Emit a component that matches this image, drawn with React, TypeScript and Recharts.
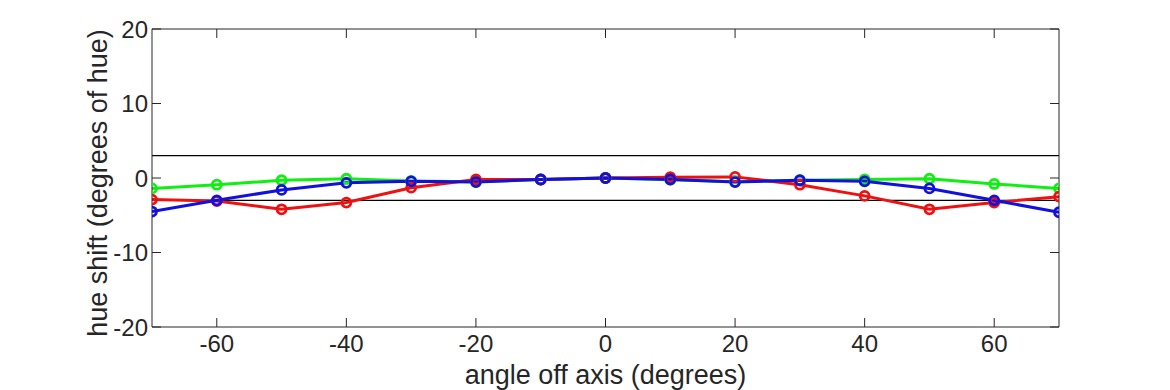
import React from "react";
import { LineChart, Line, XAxis, YAxis, ReferenceLine } from "recharts";

const angles = [-70, -60, -50, -40, -30, -20, -10, 0, 10, 20, 30, 40, 50, 60, 70];
const greenShift = [-1.4, -0.9, -0.3, -0.1, -0.4, -0.5, -0.2, 0, -0.2, -0.5, -0.3, -0.2, -0.1, -0.8, -1.4];
const redShift = [-2.9, -3.1, -4.2, -3.3, -1.3, -0.2, -0.2, 0, 0.1, 0.15, -0.9, -2.4, -4.2, -3.3, -2.5];
const blueShift = [-4.5, -3.0, -1.6, -0.65, -0.45, -0.55, -0.2, 0, -0.2, -0.55, -0.3, -0.45, -1.4, -3.0, -4.6];
const xTicks = [-60, -40, -20, 0, 20, 40, 60];
const yTicks = [-20, -10, 0, 10, 20];

const data = angles.map((angle, i) => ({
  angle,
  green: greenShift[i],
  red: redShift[i],
  blue: blueShift[i],
}));

const FONT = "'Liberation Sans', Arial, Helvetica, sans-serif";
const AXIS = "#262626";
const TICK_LEN = 9;

const BottomTick = (props: any) => {
  const { x, y, payload } = props;
  return (
    <g>
      <line x1={x} y1={y} x2={x} y2={y - TICK_LEN} stroke={AXIS} strokeWidth={1} />
      <text x={x} y={y + 8} dy="0.71em" textAnchor="middle" fontSize={24} fontFamily={FONT} fill={AXIS}>
        {payload.value}
      </text>
    </g>
  );
};

const TopTick = (props: any) => {
  const { x, y } = props;
  return <line x1={x} y1={y} x2={x} y2={y + TICK_LEN} stroke={AXIS} strokeWidth={1} />;
};

const LeftTick = (props: any) => {
  const { x, y, payload } = props;
  return (
    <g>
      <line x1={x} y1={y} x2={x + TICK_LEN} y2={y} stroke={AXIS} strokeWidth={1} />
      <text x={x - 4} y={y} dy="0.36em" textAnchor="end" fontSize={24} fontFamily={FONT} fill={AXIS}>
        {payload.value}
      </text>
    </g>
  );
};

const RightTick = (props: any) => {
  const { x, y } = props;
  return <line x1={x} y1={y} x2={x - TICK_LEN} y2={y} stroke={AXIS} strokeWidth={1} />;
};

const YLabel = (props: any) => {
  const { viewBox } = props;
  const cx = 97;
  const cy = viewBox.y + viewBox.height / 2 + 5;
  return (
    <text
      x={cx}
      y={cy}
      transform={`rotate(-90, ${cx}, ${cy})`}
      textAnchor="middle"
      dy="0.36em"
      fontSize={27}
      fontFamily={FONT}
      fill={AXIS}
    >
      hue shift (degrees of hue)
    </text>
  );
};

const dot = (color: string) => ({ r: 4.5, stroke: color, strokeWidth: 2.8, fill: "none" });

export default function App() {
  return (
    <div style={{ position: "absolute", left: 0, top: 0, width: 1170, height: 390, background: "#fff" }}>
      <LineChart width={1170} height={390} data={data} margin={{ top: 28, right: 110, bottom: 0, left: 92 }}>
        <XAxis
          dataKey="angle"
          type="number"
          domain={[-70, 70]}
          ticks={xTicks}
          allowDataOverflow
          height={63}
          tickSize={0}
          tickMargin={0}
          tick={<BottomTick />}
          axisLine={{ stroke: AXIS, strokeWidth: 1 }}
          tickLine={false}
          label={{
            value: "angle off axis (degrees)",
            position: "insideBottom",
            offset: 6,
            fontSize: 27,
            fontFamily: FONT,
            fill: AXIS,
          }}
        />
        <XAxis
          xAxisId="top"
          dataKey="angle"
          type="number"
          orientation="top"
          domain={[-70, 70]}
          ticks={xTicks}
          allowDataOverflow
          height={1}
          tickSize={0}
          tickMargin={0}
          tick={<TopTick />}
          axisLine={{ stroke: AXIS, strokeWidth: 1 }}
          tickLine={false}
        />
        <YAxis
          type="number"
          domain={[-20, 20]}
          ticks={yTicks}
          allowDataOverflow
          width={60}
          tickSize={0}
          tickMargin={0}
          tick={<LeftTick />}
          axisLine={{ stroke: AXIS, strokeWidth: 1 }}
          tickLine={false}
          label={<YLabel />}
        />
        <YAxis
          yAxisId="right"
          orientation="right"
          type="number"
          domain={[-20, 20]}
          ticks={yTicks}
          allowDataOverflow
          width={1}
          tickSize={0}
          tickMargin={0}
          tick={<RightTick />}
          axisLine={{ stroke: AXIS, strokeWidth: 1 }}
          tickLine={false}
        />
        <ReferenceLine y={3} stroke="#000" strokeWidth={1.2} />
        <ReferenceLine y={-3} stroke="#000" strokeWidth={1.2} />
        {/* invisible series so the top and right frame axes get drawn */}
        <Line
          xAxisId="top"
          yAxisId="right"
          dataKey="green"
          stroke="none"
          dot={false}
          activeDot={false}
          legendType="none"
          isAnimationActive={false}
        />
        <Line dataKey="green" stroke="#11ee11" strokeWidth={3} dot={dot("#11ee11")} isAnimationActive={false} />
        <Line dataKey="red" stroke="#ee1111" strokeWidth={3} dot={dot("#ee1111")} isAnimationActive={false} />
        <Line dataKey="blue" stroke="#1111dd" strokeWidth={3} dot={dot("#1111dd")} isAnimationActive={false} />
      </LineChart>
    </div>
  );
}
